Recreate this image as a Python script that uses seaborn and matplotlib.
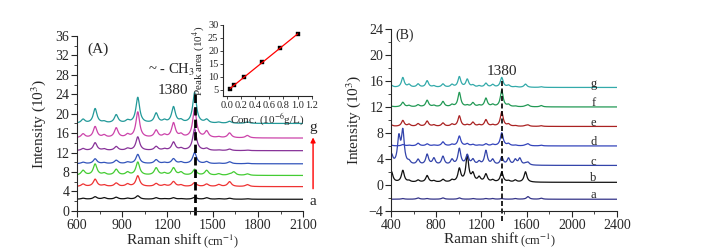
import numpy as np
import pandas as pd
import matplotlib
matplotlib.use("Agg")
import matplotlib.pyplot as plt
import seaborn as sns
from matplotlib.ticker import MultipleLocator

sns.set_style("ticks")
plt.rcParams['font.family'] = ['Liberation Serif', 'DejaVu Serif']
plt.rcParams['mathtext.fontset'] = 'stix'

# ---------------- Panel A data (intensity in 10^3) ----------------
a_labels = ["a", "b", "c", "d", "e", "f", "g"]
a_colors = ["#111111", "#ee3333", "#44cc33", "#3355bb", "#883399", "#cc44aa", "#229999"]
a_baselines = [2.4, 5.0, 7.3, 9.7, 12.4, 15.0, 18.0]
a_peak_pos = [640, 720, 780, 860, 935, 1003, 1125, 1180, 1240, 1290, 1380, 1460, 1540, 1612, 1640, 1730]
a_heights = {
    "a": [0.2, 0.5, 0.3, 0.4, 0.2, 0.7, 0.3, 0.1, 0.3, 0.1, 0.4, 0.3, 0.1, 0.2, 0.0, 0.1],
    "b": [0.5, 1.5, 0.3, 0.7, 0.5, 2.2, 0.6, 0.3, 1.0, 0.3, 0.8, 0.5, 0.4, 1.0, 0.0, 0.4],
    "c": [1.0, 2.3, 0.4, 1.2, 0.6, 2.7, 1.5, 0.4, 1.5, 0.6, 1.2, 1.0, 0.3, 0.2, 0.7, 0.3],
    "d": [0.3, 1.0, 0.2, 0.7, 0.3, 1.9, 0.8, 0.2, 1.0, 0.3, 2.3, 0.4, 0.1, 0.4, 0.0, 0.1],
    "e": [0.4, 1.6, 0.3, 0.8, 0.4, 2.8, 0.8, 0.3, 1.7, 0.4, 4.5, 0.4, 0.1, 0.3, 0.0, 0.1],
    "f": [0.8, 2.3, 0.5, 2.0, 0.6, 5.3, 1.5, 0.5, 3.0, 0.6, 6.0, 1.3, 0.2, 1.0, 0.0, 0.5],
    "g": [0.8, 3.0, 0.3, 1.7, 0.5, 5.3, 2.0, 0.5, 3.3, 0.5, 6.3, 0.7, 0.2, 0.4, 0.0, 0.3],
}
a_x_start, a_x_end = 600, 2100

# ---------------- Panel B data (intensity in 10^3) ----------------
b_labels = ["a", "b", "c", "d", "e", "f", "g"]
b_colors = ["#333388", "#111111", "#3344aa", "#3344bb", "#aa2222", "#229955", "#33aaaa"]
b_baselines = [-2.2, 0.4, 3.0, 6.0, 9.0, 12.0, 15.0]
b_peak_pos = [405, 470, 505, 560, 640, 720, 780, 860, 940, 1005, 1075, 1125, 1180, 1240, 1300, 1380, 1440, 1500, 1540, 1590, 1612, 1730]
b_heights = {
    "a": [0.0, 0.0, 0.1, 0.0, 0.2, 0.1, 0.0, 0.2, 0.0, 0.2, 0.0, 0.1, 0.0, 0.1, 0.1, 0.1, 0.0, 0.1, 0.0, 0.0, 0.4, 0.15],
    "b": [1.6, 0.0, 1.8, 0.2, 0.3, 1.0, 0.2, 0.4, 0.3, 2.0, 4.0, 1.2, 0.7, 1.2, 0.3, 1.5, 0.2, 0.3, 0.0, 1.6, 0.0, 0.0],
    "c": [1.5, 4.0, 5.0, 0.4, 0.8, 1.6, 1.0, 1.3, 0.8, 2.5, 1.5, 0.8, 0.5, 2.2, 0.8, 1.2, 1.0, 0.8, 1.0, 0.2, 0.4, 0.0],
    "d": [0.1, 0.0, 0.2, 0.1, 0.4, 0.3, 0.1, 0.6, 0.2, 1.5, 0.3, 0.2, 0.1, 0.3, 0.2, 2.0, 0.3, 0.1, 0.0, 0.1, 0.3, 0.1],
    "e": [0.2, 0.0, 0.9, 0.3, 0.4, 0.8, 0.2, 0.5, 0.3, 1.6, 0.2, 0.6, 0.2, 1.0, 0.2, 2.2, 0.3, 0.1, 0.0, 0.1, 0.2, 0.1],
    "f": [0.1, 0.0, 0.7, 0.2, 0.3, 1.0, 0.2, 0.8, 0.3, 2.2, 0.2, 0.6, 0.2, 1.3, 0.3, 2.5, 0.3, 0.1, 0.0, 0.1, 0.3, 0.2],
    "g": [0.3, 0.0, 1.5, 0.4, 0.5, 1.0, 0.2, 0.5, 0.4, 1.6, 1.2, 0.3, 0.2, 0.6, 0.4, 1.5, 0.3, 0.1, 0.0, 0.5, 0.0, 0.1],
}
b_x_start, b_x_end = 400, 2400

# ---------------- Inset data ----------------
conc = [0.05, 0.1, 0.25, 0.5, 0.75, 1.0]
peak_area = [5.3, 6.8, 9.8, 15.5, 21.0, 26.5]

PEAK_HALF_WIDTH = 15.0


def build_spectra(labels, baselines, pos, heights, x0, x1):
    x = np.arange(x0, x1 + 1, 2.0)
    rows = []
    for lab, base in zip(labels, baselines):
        y = np.full_like(x, base)
        for c, h in zip(pos, heights[lab]):
            y = y + h / (1 + ((x - c) / PEAK_HALF_WIDTH) ** 2)
        rows.append(pd.DataFrame({"shift": x, "intensity": y, "sample": lab}))
    return pd.concat(rows, ignore_index=True)


dfA = build_spectra(a_labels, a_baselines, a_peak_pos, a_heights, a_x_start, a_x_end)
dfB = build_spectra(b_labels, b_baselines, b_peak_pos, b_heights, b_x_start, b_x_end)

fig = plt.figure(figsize=(7.2, 2.52), dpi=100)
axA = fig.add_axes([0.107, 0.163, 0.314, 0.694])
axB = fig.add_axes([0.543, 0.163, 0.314, 0.722])
axI = fig.add_axes([0.310, 0.619, 0.123, 0.282])

TICK_FS = 10

# ---- Panel A ----
sns.lineplot(data=dfA, x="shift", y="intensity", hue="sample", palette=dict(zip(a_labels, a_colors)),
             estimator=None, legend=False, linewidth=0.9, ax=axA)
axA.set_xlim(600, 2100)
axA.set_ylim(0, 36)
axA.xaxis.set_major_locator(MultipleLocator(300))
axA.xaxis.set_minor_locator(MultipleLocator(150))
axA.yaxis.set_major_locator(MultipleLocator(4))
axA.yaxis.set_minor_locator(MultipleLocator(2))
axA.tick_params(axis="both", which="major", labelsize=TICK_FS, length=4, width=0.8, direction="out", pad=1.5)
axA.tick_params(axis="both", which="minor", length=2, width=0.6, direction="out")
sns.despine(ax=axA)
axA.set_xlabel("")
axA.set_ylabel("Intensity (10$^{3}$)", fontsize=11, labelpad=5)
tA = axA.text(0.22, -0.17, "Raman shift", transform=axA.transAxes, fontsize=11, ha="left", va="center")
axA.annotate("(cm$^{-1}$)", xy=(1, 0.45), xycoords=tA, xytext=(1.5, 0), textcoords="offset points",
             fontsize=9, va="center", ha="left")
axA.plot([1380, 1380], [-0.9, 24.2], ls=(0, (3, 1.5)), color="black", lw=2, clip_on=False)
axA.text(740, 33.3, "(A)", fontsize=11, ha="center", va="center")
axA.text(1225, 29.0, "~ - CH$_3$", fontsize=10.5, ha="center", va="center")
axA.text(1235, 24.8, "1380", fontsize=11, ha="center", va="center")
axA.text(2166, 17.2, "g", fontsize=11, ha="center", va="center", clip_on=False)
axA.text(2166, 1.9, "a", fontsize=11, ha="center", va="center", clip_on=False)
axA.annotate("", xy=(2166, 15.7), xytext=(2166, 4.0), xycoords="data",
             arrowprops=dict(arrowstyle="-|>", color="red", lw=1, mutation_scale=7),
             annotation_clip=False)

# ---- Inset ----
sns.regplot(x=conc, y=peak_area, ci=None, scatter=False, color="red", line_kws=dict(lw=0.9), ax=axI)
sns.scatterplot(x=conc, y=peak_area, marker="s", color="black", s=12, edgecolor="black", ax=axI)
axI.set_xlim(-0.05, 1.2)
axI.set_ylim(2.5, 30)
axI.set_xticks(np.arange(0, 1.21, 0.2))
axI.set_xticklabels([f"{v:.1f}" for v in np.arange(0, 1.21, 0.2)])
axI.yaxis.set_major_locator(MultipleLocator(5))
axI.tick_params(axis="both", labelsize=7.5, length=2.5, width=0.6, direction="out", pad=1)
sns.despine(ax=axI)
axI.patch.set_alpha(0)
axI.set_xlabel("Conc. (10$^{-6}$g/L)", fontsize=8, labelpad=1)
axI.set_ylabel("Peak area (10$^{4}$)", fontsize=8, labelpad=0.5)

# ---- Panel B ----
sns.lineplot(data=dfB, x="shift", y="intensity", hue="sample", palette=dict(zip(b_labels, b_colors)),
             estimator=None, legend=False, linewidth=0.9, ax=axB)
axB.set_xlim(400, 2400)
axB.set_ylim(-4, 24)
axB.xaxis.set_major_locator(MultipleLocator(400))
axB.xaxis.set_minor_locator(MultipleLocator(200))
axB.yaxis.set_major_locator(MultipleLocator(4))
axB.yaxis.set_minor_locator(MultipleLocator(2))
axB.tick_params(axis="both", which="major", labelsize=TICK_FS, length=4, width=0.8, direction="out", pad=1.5)
axB.tick_params(axis="both", which="minor", length=2, width=0.6, direction="out")
sns.despine(ax=axB)
axB.set_xlabel("")
axB.set_ylabel("Intensity (10$^{3}$)", fontsize=11, labelpad=4)
tB = axB.text(0.235, -0.158, "Raman shift", transform=axB.transAxes, fontsize=11, ha="left", va="center")
axB.annotate("(cm$^{-1}$)", xy=(1, 0.45), xycoords=tB, xytext=(1.5, 0), textcoords="offset points",
             fontsize=9, va="center", ha="left")
axB.plot([1380, 1380], [-5.6, 16.2], ls=(0, (3, 1.5)), color="black", lw=1.2, clip_on=False)
axB.text(520, 23, "(B)", fontsize=10, ha="center", va="center")
axB.text(1382, 17.4, "1380", fontsize=11, ha="center", va="center")
for lab, base in zip(b_labels, b_baselines):
    axB.text(2190, base + 0.6, lab, fontsize=9, ha="center", va="center")

fig.savefig("out.png", dpi=100)
